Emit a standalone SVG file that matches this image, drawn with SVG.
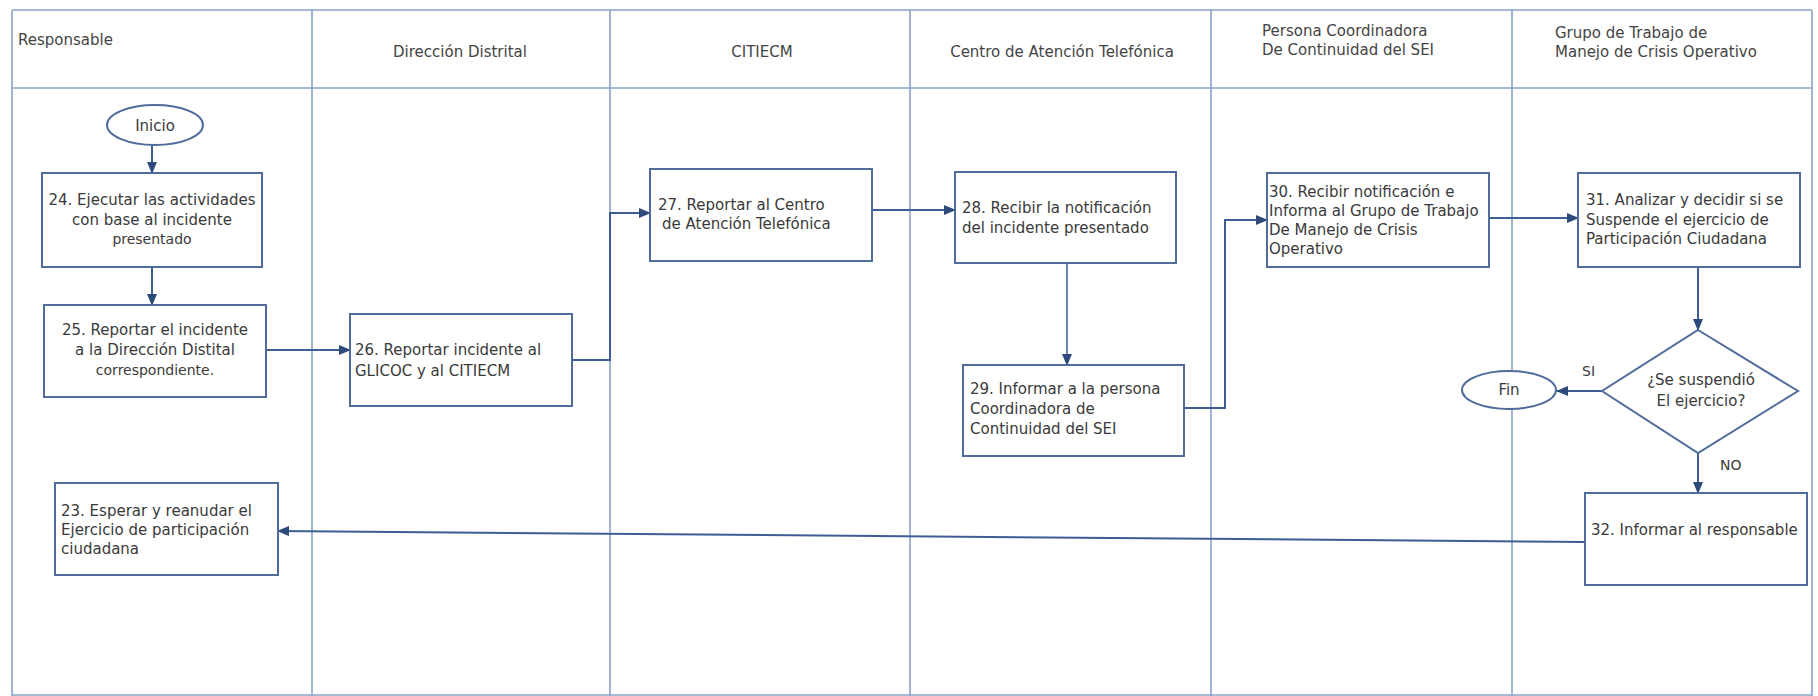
<svg xmlns="http://www.w3.org/2000/svg" width="1818" height="696" viewBox="0 0 1818 696">
<defs>
<style>
.lane{stroke:#8aa3c8;stroke-width:1.6;fill:none}
.box{fill:#ffffff;stroke:#4f6c9c;stroke-width:2}
.conn{stroke:#3d5e93;stroke-width:2;fill:none}
.t{font-family:"DejaVu Sans",sans-serif;font-size:15px;fill:#3a3a3a}
.s{font-size:14px}
.h{font-family:"DejaVu Sans",sans-serif;font-size:15px;fill:#444444}
.c{text-anchor:middle}
</style>
<marker id="ah" markerWidth="12" markerHeight="10" refX="11" refY="5" orient="auto" markerUnits="userSpaceOnUse">
<path d="M0,0 L12,5 L0,10 z" fill="#2e4a7a"/>
</marker>
</defs>
<rect width="1818" height="696" fill="#ffffff"/>
<g id="lanes">
<line class="lane" x1="12" y1="10" x2="1812" y2="10"/>
<line class="lane" x1="12" y1="88" x2="1812" y2="88"/>
<line class="lane" x1="12" y1="695" x2="1812" y2="695"/>
<line class="lane" x1="12" y1="10" x2="12" y2="696"/>
<line class="lane" x1="312" y1="10" x2="312" y2="696"/>
<line class="lane" x1="610" y1="10" x2="610" y2="696"/>
<line class="lane" x1="910" y1="10" x2="910" y2="696"/>
<line class="lane" x1="1211" y1="10" x2="1211" y2="696"/>
<line class="lane" x1="1512" y1="10" x2="1512" y2="696"/>
<line class="lane" x1="1812" y1="10" x2="1812" y2="696"/>
<text class="h" x="18" y="45">Responsable</text>
<text class="h c" x="460" y="57">Dirección Distrital</text>
<text class="h c" x="762" y="57">CITIECM</text>
<text class="h c" x="1062" y="57">Centro de Atención Telefónica</text>
<text class="h" x="1262" y="36">Persona Coordinadora</text>
<text class="h" x="1262" y="55">De Continuidad del SEI</text>
<text class="h" x="1555" y="38">Grupo de Trabajo de</text>
<text class="h" x="1555" y="57">Manejo de Crisis Operativo</text>
</g>
<g id="connectors">
<line class="conn" x1="152" y1="145" x2="152" y2="173" marker-end="url(#ah)"/>
<line class="conn" x1="152" y1="267" x2="152" y2="305" marker-end="url(#ah)"/>
<line class="conn" x1="266" y1="350" x2="350" y2="350" marker-end="url(#ah)"/>
<polyline class="conn" points="572,360 610,360 610,213 650,213" marker-end="url(#ah)"/>
<line class="conn" x1="872" y1="210" x2="955" y2="210" marker-end="url(#ah)"/>
<line class="conn" x1="1067" y1="263" x2="1067" y2="365" marker-end="url(#ah)" style="stroke-width:1.5"/>
<polyline class="conn" points="1184,408 1225,408 1225,220 1267,220" marker-end="url(#ah)"/>
<line class="conn" x1="1489" y1="218" x2="1578" y2="218" marker-end="url(#ah)"/>
<line class="conn" x1="1698" y1="267" x2="1698" y2="330" marker-end="url(#ah)"/>
<line class="conn" x1="1602" y1="391" x2="1557" y2="391" marker-end="url(#ah)"/>
<line class="conn" x1="1698" y1="453" x2="1698" y2="493" marker-end="url(#ah)"/>
<line class="conn" x1="1585" y1="542" x2="278" y2="531" marker-end="url(#ah)"/>
<text class="t s" x="1582" y="376">SI</text>
<text class="t s" x="1720" y="470">NO</text>
</g>
<g id="inicio">
<ellipse class="box" cx="155" cy="125" rx="48" ry="20"/>
<text class="t c" x="155" y="131">Inicio</text>
</g>
<g id="n24">
<rect class="box" x="42" y="173" width="220" height="94"/>
<text class="t c" x="152" y="205">24. Ejecutar las actividades</text>
<text class="t c" x="152" y="225">con base al incidente</text>
<text class="t s c" x="152" y="244">presentado</text>
</g>
<g id="n25">
<rect class="box" x="44" y="305" width="222" height="92"/>
<text class="t c" x="155" y="335">25. Reportar el incidente</text>
<text class="t c" x="155" y="355">a la Dirección Distital</text>
<text class="t s c" x="155" y="375">correspondiente.</text>
</g>
<g id="n26">
<rect class="box" x="350" y="314" width="222" height="92"/>
<text class="t" x="355" y="355">26. Reportar incidente al</text>
<text class="t" x="355" y="376">GLICOC y al CITIECM</text>
</g>
<g id="n27">
<rect class="box" x="650" y="169" width="222" height="92"/>
<text class="t" x="658" y="210">27. Reportar al Centro</text>
<text class="t" x="662" y="229">de Atención Telefónica</text>
</g>
<g id="n28">
<rect class="box" x="955" y="172" width="221" height="91"/>
<text class="t" x="962" y="213">28. Recibir la notificación</text>
<text class="t" x="962" y="233">del incidente presentado</text>
</g>
<g id="n29">
<rect class="box" x="963" y="365" width="221" height="91"/>
<text class="t" x="970" y="394">29. Informar a la persona</text>
<text class="t" x="970" y="414">Coordinadora de</text>
<text class="t" x="970" y="434">Continuidad del SEI</text>
</g>
<g id="n30">
<rect class="box" x="1267" y="173" width="222" height="94"/>
<text class="t" x="1269" y="197">30. Recibir notificación e</text>
<text class="t" x="1269" y="216">Informa al Grupo de Trabajo</text>
<text class="t" x="1269" y="235">De Manejo de Crisis</text>
<text class="t" x="1269" y="254">Operativo</text>
</g>
<g id="n31">
<rect class="box" x="1578" y="173" width="222" height="94"/>
<text class="t" x="1586" y="205">31. Analizar y decidir si se</text>
<text class="t" x="1586" y="225">Suspende el ejercicio de</text>
<text class="t" x="1586" y="244">Participación Ciudadana</text>
</g>
<g id="decision">
<polygon class="box" points="1698,330 1798,391 1698,453 1602,391"/>
<text class="t c" x="1701" y="385">¿Se suspendió</text>
<text class="t c" x="1701" y="406">El ejercicio?</text>
</g>
<g id="fin">
<ellipse class="box" cx="1509" cy="390" rx="47" ry="19"/>
<text class="t c" x="1509" y="395">Fin</text>
</g>
<g id="n32">
<rect class="box" x="1585" y="493" width="222" height="92"/>
<text class="t" x="1591" y="535">32. Informar al responsable</text>
</g>
<g id="n23">
<rect class="box" x="55" y="483" width="223" height="92"/>
<text class="t" x="61" y="516">23. Esperar y reanudar el</text>
<text class="t" x="61" y="535">Ejercicio de participación</text>
<text class="t" x="61" y="554">ciudadana</text>
</g>
</svg>
